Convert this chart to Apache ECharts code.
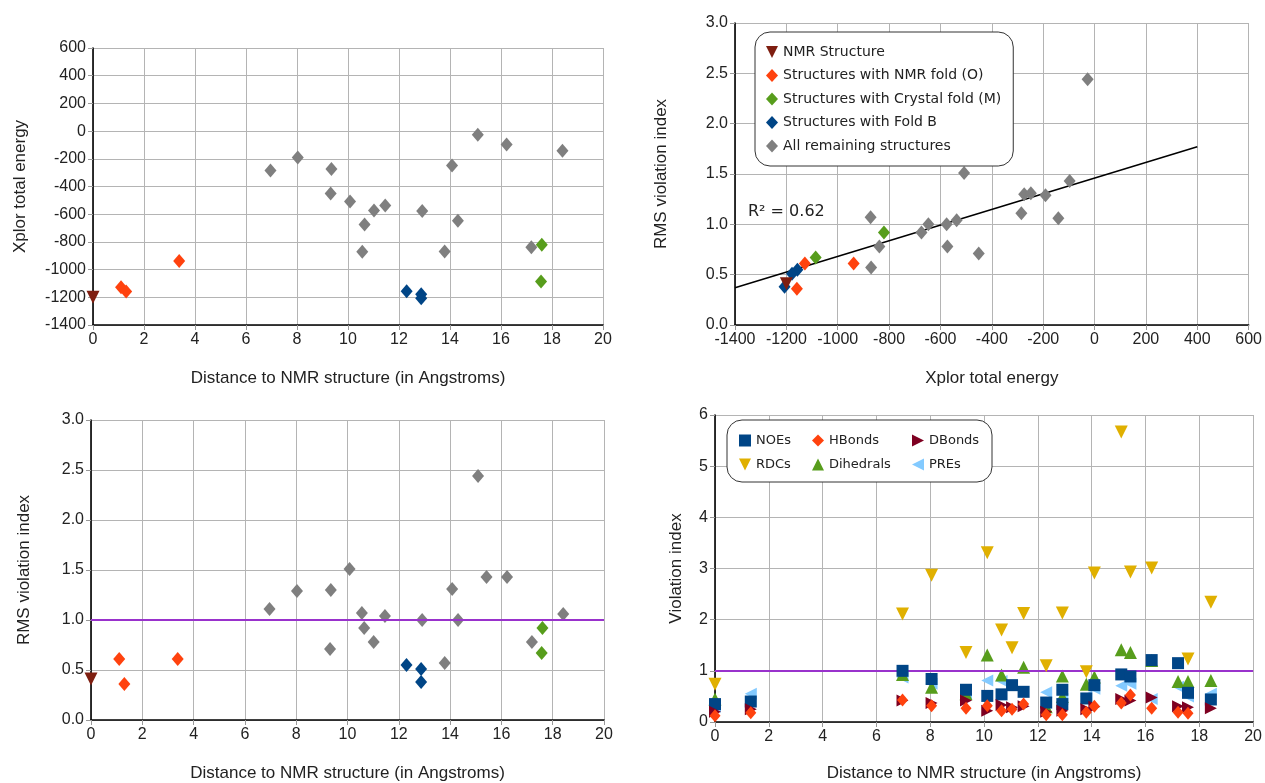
<!DOCTYPE html>
<html><head><meta charset="utf-8">
<script src="https://cdn.jsdelivr.net/npm/echarts@6/dist/echarts.min.js"></script>
<style>html,body{margin:0;padding:0;background:#fff}#c{width:1265px;height:783px}</style>
</head><body><div id="c"></div>
<script>
// ---------- Data: structures (distance to NMR structure, Xplor total energy, RMS violation index) ----------
const nmrDist = [0.00];
const nmrEnergy = [-1200];
const nmrRms = [0.41];

const nmrFoldDist = [1.10, 1.30, 3.38];
const nmrFoldEnergy = [-1128, -1159, -938];
const nmrFoldRms = [0.61, 0.36, 0.61];

const crystalDist = [17.60, 17.57];
const crystalEnergy = [-820, -1086];
const crystalRms = [0.92, 0.67];

const foldBDist = [12.30, 12.87, 12.87];
const foldBEnergy = [-1157, -1178, -1207];
const foldBRms = [0.55, 0.51, 0.38];

const remainDist = [6.96, 8.03, 9.35, 9.32, 10.08, 10.56, 10.65, 11.02, 11.46, 12.91, 13.79, 14.08, 14.31, 15.09, 15.42, 16.22, 17.19, 18.41];
const remainEnergy = [-285, -191, -274, -451, -508, -872, -674, -573, -537, -576, -870, -248, -647, -27, null, -97, -838, -141];
const remainRms = [1.11, 1.29, 1.30, 0.71, 1.51, 1.07, 0.92, 0.78, 1.04, 1.00, 0.57, 1.31, 1.00, 2.44, 1.43, 1.43, 0.78, 1.06];

// Regression line (read endpoints) and its R^2
const trendEnergy = [-1400, 400];
const trendRms = [0.37, 1.77];
const rSquaredText = 'R\u00b2 = 0.62';

// ---------- Data: violation indices per restraint type ----------
const violDist = [0.00, 1.33, 6.97, 8.05, 9.33, 10.12, 10.65, 11.04, 11.47, 12.31, 12.91, 12.91, 13.80, 14.10, 15.10, 15.44, 16.23, 17.21, 17.58, 18.43];
const noes      = [0.35, 0.40, 1.00, 0.84, 0.63, 0.51, 0.54, 0.72, 0.59, 0.38, 0.63, 0.35, 0.46, 0.72, 0.93, 0.89, 1.21, 1.15, 0.57, 0.44];
const hbonds    = [0.12, 0.18, 0.43, 0.32, 0.27, 0.32, 0.22, 0.25, 0.35, 0.14, 0.14, null, 0.19, 0.31, 0.37, 0.53, 0.27, 0.19, 0.17, null];
const dbonds    = [0.20, 0.25, 0.42, 0.37, 0.42, 0.22, 0.33, 0.29, 0.31, 0.20, 0.22, null, 0.25, 0.30, 0.45, 0.42, 0.48, 0.31, 0.29, 0.27];
const rdcs      = [0.74, null, 2.11, 2.87, 1.36, 3.31, 1.80, 1.45, 2.12, 1.10, 2.13, null, 0.98, 2.91, 5.67, 2.93, 3.01, null, 1.23, 2.34];
const dihedrals = [0.45, null, 0.93, 0.68, 0.55, 1.31, 0.92, null, 1.07, 0.30, 0.90, 0.50, 0.74, 0.88, 1.41, 1.36, 1.20, 0.79, 0.79, 0.81];
const pres      = [0.30, 0.55, 0.87, 0.75, 0.55, 0.81, 0.80, null, null, 0.58, 0.45, null, 0.50, 0.65, 0.71, 0.75, 0.45, 0.69, 0.50, 0.55];

const violationThreshold = 1;

// ---------- Helpers ----------
function zip(a, b) {
  const out = [];
  for (let i = 0; i < a.length; i++) {
    if (a[i] == null || b[i] == null) continue;
    out.push([a[i], b[i]]);
  }
  return out;
}

const C = {
  gray: '#7f7f7f', orange: '#ff420e', green: '#579d1c', blue: '#004586', brown: '#7e1e10',
  maroon: '#7e0021', gold: '#e0b000', light: '#83caff', purple: '#9932cc'
};
const TICK_FONT = 'Liberation Sans';
const LEG_FONT = 'DejaVu Sans';
const plain = v => String(v);
const fmt1 = v => v.toFixed(1);

const ICON_DOWN = 'path://M0,0L10,0L5,10Z';
const ICON_RIGHT = 'path://M0,0L10,5L0,10Z';
const ICON_LEFT = 'path://M10,0L0,5L10,10Z';

function axis(extra, formatter) {
  return Object.assign({
    type: 'value',
    nameLocation: 'middle',
    nameTextStyle: { fontFamily: TICK_FONT, fontSize: 17, color: '#222' },
    axisLine: { show: true, onZero: false, lineStyle: { color: '#000', width: 1.6 } },
    axisTick: { show: true, length: 5, lineStyle: { color: '#999' } },
    splitLine: { show: true, lineStyle: { color: '#b4b4b4', width: 1 } },
    axisLabel: { fontFamily: TICK_FONT, fontSize: 16, color: '#222', margin: 7, formatter: formatter || plain }
  }, extra);
}

const groups = [
  { name: 'All remaining structures', color: C.gray, symbol: 'diamond', rot: 0, size: [12, 14], d: remainDist, e: remainEnergy, r: remainRms },
  { name: 'Structures with NMR fold (O)', color: C.orange, symbol: 'diamond', rot: 0, size: [12, 14], d: nmrFoldDist, e: nmrFoldEnergy, r: nmrFoldRms },
  { name: 'Structures with Crystal fold (M)', color: C.green, symbol: 'diamond', rot: 0, size: [12, 14], d: crystalDist, e: crystalEnergy, r: crystalRms },
  { name: 'Structures with Fold B', color: C.blue, symbol: 'diamond', rot: 0, size: [12, 14], d: foldBDist, e: foldBEnergy, r: foldBRms },
  { name: 'NMR Structure', color: C.brown, symbol: 'triangle', rot: 180, size: 13, d: nmrDist, e: nmrEnergy, r: nmrRms }
];

const series = [];
const panels = [
  { idx: 0, x: 'd', y: 'e' },
  { idx: 1, x: 'e', y: 'r' },
  { idx: 2, x: 'd', y: 'r' }
];
panels.forEach(p => {
  groups.forEach((g, gi) => {
    const s = {
      type: 'scatter', name: g.name, xAxisIndex: p.idx, yAxisIndex: p.idx,
      symbol: g.symbol, symbolRotate: g.rot, symbolSize: g.size,
      itemStyle: { color: g.color, opacity: 1 },
      data: zip(g[p.x], g[p.y]), z: 3 + gi
    };
    if (p.idx === 2 && gi === 0) {
      s.markLine = { silent: true, symbol: 'none', label: { show: false },
        lineStyle: { color: C.purple, width: 2, type: 'solid' }, data: [{ yAxis: violationThreshold }] };
    }
    series.push(s);
  });
});
series.push({
  type: 'line', name: 'trend', xAxisIndex: 1, yAxisIndex: 1, showSymbol: false, symbol: 'none',
  lineStyle: { color: '#000', width: 1.5 }, data: zip(trendEnergy, trendRms), z: 2, silent: true
});

const viol = [
  { name: 'PREs', color: C.light, symbol: 'triangle', rot: 90, size: 12, v: pres },
  { name: 'Dihedrals', color: C.green, symbol: 'triangle', rot: 0, size: 13, v: dihedrals },
  { name: 'RDCs', color: C.gold, symbol: 'triangle', rot: 180, size: 13, v: rdcs },
  { name: 'NOEs', color: C.blue, symbol: 'rect', rot: 0, size: 12, v: noes },
  { name: 'DBonds', color: C.maroon, symbol: 'triangle', rot: -90, size: 12, v: dbonds },
  { name: 'HBonds', color: C.orange, symbol: 'diamond', rot: 0, size: [11, 13], v: hbonds }
];
viol.forEach((g, gi) => {
  const s = {
    type: 'scatter', name: g.name, xAxisIndex: 3, yAxisIndex: 3,
    symbol: g.symbol, symbolRotate: g.rot, symbolSize: g.size,
    itemStyle: { color: g.color, opacity: 1 }, data: zip(violDist, g.v), z: 3 + gi
  };
  if (gi === 0) {
    s.markLine = { silent: true, symbol: 'none', label: { show: false },
      lineStyle: { color: C.purple, width: 2, type: 'solid' }, data: [{ yAxis: violationThreshold }] };
  }
  series.push(s);
});

function legItem(name, icon) { return icon ? { name: name, icon: icon } : { name: name }; }

const legBase = {
  orient: 'vertical', selectedMode: false,
  textStyle: { fontFamily: LEG_FONT, fontSize: 13, color: '#222' },
  itemWidth: 12, itemHeight: 12, itemGap: 11, padding: 0
};

const option = {
  animation: false,
  backgroundColor: '#fff',
  grid: [
    { left: 93, right: 662, top: 48, bottom: 458 },
    { left: 735, right: 15, top: 23, bottom: 458 },
    { left: 91, right: 661, top: 420, bottom: 63 },
    { left: 715, right: 11, top: 415, bottom: 61 }
  ],
  xAxis: [
    axis({ gridIndex: 0, min: 0, max: 20, interval: 2, name: 'Distance to NMR structure (in Angstroms)', nameGap: 45 }),
    axis({ gridIndex: 1, min: -1400, max: 600, interval: 200, name: 'Xplor total energy', nameGap: 45 }),
    axis({ gridIndex: 2, min: 0, max: 20, interval: 2, name: 'Distance to NMR structure (in Angstroms)', nameGap: 45 }),
    axis({ gridIndex: 3, min: 0, max: 20, interval: 2, name: 'Distance to NMR structure (in Angstroms)', nameGap: 43 })
  ],
  yAxis: [
    axis({ gridIndex: 0, min: -1400, max: 600, interval: 200, name: 'Xplor total energy', nameGap: 64 }),
    axis({ gridIndex: 1, min: 0, max: 3, interval: 0.5, name: 'RMS violation index', nameGap: 65 }, fmt1),
    axis({ gridIndex: 2, min: 0, max: 3, interval: 0.5, name: 'RMS violation index', nameGap: 58 }, fmt1),
    axis({ gridIndex: 3, min: 0, max: 6, interval: 1, name: 'Violation index', nameGap: 30 })
  ],
  legend: [
    {
      orient: 'vertical', selectedMode: false, left: 755, top: 32,
      data: [legItem('NMR Structure', ICON_DOWN), legItem('Structures with NMR fold (O)'),
             legItem('Structures with Crystal fold (M)'), legItem('Structures with Fold B'),
             legItem('All remaining structures')],
      textStyle: { fontFamily: LEG_FONT, fontSize: 14, color: '#222' },
      itemWidth: 12, itemHeight: 13, itemGap: 9.5,
      padding: [13, 12, 13, 11],
      backgroundColor: '#fff', borderColor: '#333', borderWidth: 1, borderRadius: 15, z: 6
    },
    Object.assign({}, legBase, { left: 739, top: 434, data: [legItem('NOEs'), legItem('RDCs', ICON_DOWN)], z: 6 }),
    Object.assign({}, legBase, { left: 812, top: 434, data: [legItem('HBonds'), legItem('Dihedrals')], z: 6 }),
    Object.assign({}, legBase, { left: 912, top: 434, data: [legItem('DBonds', ICON_RIGHT), legItem('PREs', ICON_LEFT)], z: 6 })
  ],
  graphic: [
    { type: 'rect', z: 5, shape: { x: 727, y: 420, width: 265, height: 62, r: 15 },
      style: { fill: '#fff', stroke: '#333', lineWidth: 1 } },
    { type: 'text', z: 5, left: 748, top: 204,
      style: { text: rSquaredText, font: '16px "DejaVu Sans"', fill: '#222' } }
  ],
  series: series
};

const chart = echarts.init(document.getElementById('c'), null, { renderer: 'canvas' });
chart.setOption(option);
</script>
</body></html>
